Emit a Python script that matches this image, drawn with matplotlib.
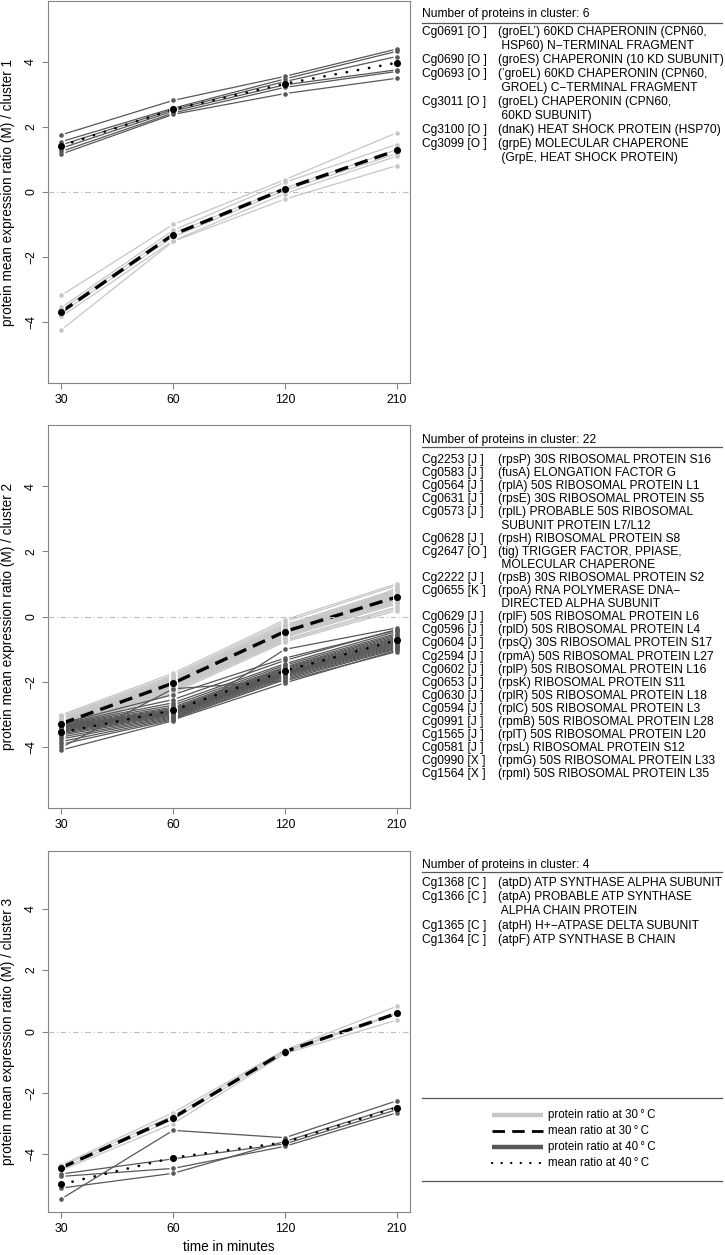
import numpy as np
import matplotlib
matplotlib.use("Agg")
import matplotlib.pyplot as plt

plt.rcParams['font.family'] = ['Liberation Sans', 'DejaVu Sans']

# ---- data ----
times = ["30", "60", "120", "210"]

# cluster 1: one row per protein, columns = 30, 60, 120, 210 min
c1_30C = [[-3.18, -1.00, 0.38, 1.82],
          [-3.55, -1.18, 0.30, 1.46],
          [-3.62, -1.28, 0.12, 1.30],
          [-3.72, -1.38, 0.05, 1.18],
          [-3.83, -1.50, -0.05, 1.10],
          [-4.24, -1.52, -0.22, 0.81]]
c1_40C = [[1.76, 2.82, 3.56, 4.40],
          [1.55, 2.58, 3.48, 4.33],
          [1.45, 2.54, 3.40, 4.17],
          [1.35, 2.49, 3.30, 3.76],
          [1.25, 2.43, 3.22, 3.71],
          [1.17, 2.39, 3.03, 3.50]]

c2_30C = [[-3.02, -1.74, -0.10, 1.00],
          [-3.06, -1.80, -0.16, 0.95],
          [-3.10, -1.84, -0.22, 0.40],
          [-3.13, -1.88, -0.26, 0.84],
          [-3.16, -1.90, -0.30, 0.80],
          [-3.19, -1.93, -0.33, 0.77],
          [-3.21, -1.95, -0.36, 0.74],
          [-3.23, -1.97, -0.39, 0.70],
          [-3.25, -1.99, -0.41, 0.67],
          [-3.27, -2.01, -0.43, 0.64],
          [-3.29, -2.03, -0.45, 0.62],
          [-3.30, -2.05, -0.47, 0.59],
          [-3.32, -2.07, -0.50, 0.56],
          [-3.34, -2.09, -0.52, 0.53],
          [-3.35, -2.11, -0.55, 0.50],
          [-3.37, -2.14, -0.58, 0.46],
          [-3.39, -2.17, -0.61, 0.42],
          [-3.41, -2.20, -0.64, 0.38],
          [-3.43, -2.23, -0.67, 0.88],
          [-3.46, -2.26, -0.70, 0.29],
          [-3.50, -2.30, -0.74, 0.24],
          [-3.55, -2.35, -0.78, 0.18]]
c2_40C = [[-3.28, -2.40, -1.28, -0.42],
          [-3.30, -2.55, -1.35, -0.40],
          [-3.32, -2.65, -1.45, -0.46],
          [-3.34, -2.72, -1.50, -0.52],
          [-3.36, -2.78, -1.55, -0.56],
          [-3.38, -2.82, -1.58, -0.60],
          [-3.40, -2.85, -1.61, -0.64],
          [-3.42, -2.88, -1.64, -0.67],
          [-3.44, -2.90, -1.67, -0.70],
          [-3.46, -2.92, -1.70, -0.73],
          [-3.48, -2.94, -1.72, -0.76],
          [-3.50, -2.96, -1.74, -0.79],
          [-3.53, -2.98, -1.76, -0.82],
          [-3.56, -3.00, -1.78, -0.85],
          [-3.60, -3.02, -1.80, -0.88],
          [-3.64, -3.05, -1.83, -0.91],
          [-3.70, -3.08, -1.86, -0.94],
          [-3.76, -3.11, -1.90, -0.97],
          [-3.84, -3.14, -1.94, -1.00],
          [-3.92, -3.17, -2.04, -1.04],
          [-4.02, -2.22, -1.98, -1.08],
          [-4.10, -3.20, -1.01, -0.35]]

c3_30C = [[-4.35, -2.64, -0.60, 0.82],
          [-4.40, -2.74, -0.63, 0.60],
          [-4.47, -2.86, -0.67, 0.56],
          [-4.52, -3.00, -0.72, 0.37]]
c3_40C = [[-4.64, -4.15, -3.66, -2.55],
          [-4.72, -4.46, -3.74, -2.65],
          [-5.10, -4.62, -3.58, -2.45],
          [-5.45, -3.22, -3.46, -2.26]]

c1_names = [("Cg0691 [O ]", ["(groEL\u2019) 60KD CHAPERONIN (CPN60,", " HSP60) N\u2212TERMINAL FRAGMENT"]),
            ("Cg0690 [O ]", ["(groES) CHAPERONIN (10 KD SUBUNIT)"]),
            ("Cg0693 [O ]", ["(\u2019groEL) 60KD CHAPERONIN (CPN60,", " GROEL) C\u2212TERMINAL FRAGMENT"]),
            ("Cg3011 [O ]", ["(groEL) CHAPERONIN (CPN60,", " 60KD SUBUNIT)"]),
            ("Cg3100 [O ]", ["(dnaK) HEAT SHOCK PROTEIN (HSP70)"]),
            ("Cg3099 [O ]", ["(grpE) MOLECULAR CHAPERONE", " (GrpE, HEAT SHOCK PROTEIN)"])]
c2_names = [("Cg2253 [J ]", ["(rpsP) 30S RIBOSOMAL PROTEIN S16"]),
            ("Cg0583 [J ]", ["(fusA) ELONGATION FACTOR G"]),
            ("Cg0564 [J ]", ["(rplA) 50S RIBOSOMAL PROTEIN L1"]),
            ("Cg0631 [J ]", ["(rpsE) 30S RIBOSOMAL PROTEIN S5"]),
            ("Cg0573 [J ]", ["(rplL) PROBABLE 50S RIBOSOMAL", " SUBUNIT PROTEIN L7/L12"]),
            ("Cg0628 [J ]", ["(rpsH) RIBOSOMAL PROTEIN S8"]),
            ("Cg2647 [O ]", ["(tig) TRIGGER FACTOR, PPIASE,", " MOLECULAR CHAPERONE"]),
            ("Cg2222 [J ]", ["(rpsB) 30S RIBOSOMAL PROTEIN S2"]),
            ("Cg0655 [K ]", ["(rpoA) RNA POLYMERASE DNA\u2212", " DIRECTED ALPHA SUBUNIT"]),
            ("Cg0629 [J ]", ["(rplF) 50S RIBOSOMAL PROTEIN L6"]),
            ("Cg0596 [J ]", ["(rplD) 50S RIBOSOMAL PROTEIN L4"]),
            ("Cg0604 [J ]", ["(rpsQ) 30S RIBOSOMAL PROTEIN S17"]),
            ("Cg2594 [J ]", ["(rpmA) 50S RIBOSOMAL PROTEIN L27"]),
            ("Cg0602 [J ]", ["(rplP) 50S RIBOSOMAL PROTEIN L16"]),
            ("Cg0653 [J ]", ["(rpsK) RIBOSOMAL PROTEIN S11"]),
            ("Cg0630 [J ]", ["(rplR) 50S RIBOSOMAL PROTEIN L18"]),
            ("Cg0594 [J ]", ["(rplC) 50S RIBOSOMAL PROTEIN L3"]),
            ("Cg0991 [J ]", ["(rpmB) 50S RIBOSOMAL PROTEIN L28"]),
            ("Cg1565 [J ]", ["(rplT) 50S RIBOSOMAL PROTEIN L20"]),
            ("Cg0581 [J ]", ["(rpsL) RIBOSOMAL PROTEIN S12"]),
            ("Cg0990 [X ]", ["(rpmG) 50S RIBOSOMAL PROTEIN L33"]),
            ("Cg1564 [X ]", ["(rpmI) 50S RIBOSOMAL PROTEIN L35"])]
c3_names = [("Cg1368 [C ]", ["(atpD) ATP SYNTHASE ALPHA SUBUNIT"]),
            ("Cg1366 [C ]", ["(atpA) PROBABLE ATP SYNTHASE", " ALPHA CHAIN PROTEIN"]),
            ("Cg1365 [C ]", ["(atpH) H+\u2212ATPASE DELTA SUBUNIT"]),
            ("Cg1364 [C ]", ["(atpF) ATP SYNTHASE B CHAIN"])]

legend_labels = ["protein ratio at 30\u2009\u00b0\u2009C", "mean ratio at 30\u2009\u00b0\u2009C",
                 "protein ratio at 40\u2009\u00b0\u2009C", "mean ratio at 40\u2009\u00b0\u2009C"]

LIGHT = "#c6c6c6"
DARK = "#585858"
W, H = 725, 1255

fig = plt.figure(figsize=(W / 100, H / 100), dpi=100)
renderer = fig.canvas.get_renderer()


def fit_size(s, target_px, base=9.0):
    # font size so that string s is target_px wide
    t = fig.text(0, 0, s, fontsize=base)
    w = t.get_window_extent(renderer).width
    t.remove()
    return base * target_px / w


FS = fit_size("Number of proteins in cluster: 6", 168)
FS_LEG = fit_size(legend_labels[0], 108)
FS_LAB = fit_size("protein mean expression ratio (M) / cluster 1", 268)
FS_TICK = fit_size("210", 20.7)


def panel_axes(top, bottom, left=48, right=410):
    return fig.add_axes([left / W, 1 - bottom / H, (right - left) / W, (bottom - top) / H])


def draw_panel(ax, light, dark, k, xlabel=False):
    x = np.arange(1, len(times) + 1)
    light = np.array(light)
    dark = np.array(dark)
    for row in light:
        ax.plot(x, row, color=LIGHT, lw=0.9, zorder=2)
    for row in dark:
        ax.plot(x, row, color=DARK, lw=0.9, zorder=2)
    m30 = light.mean(axis=0)
    m40 = dark.mean(axis=0)
    ax.plot(x, m30, color="black", lw=2.4, ls=(0, (4, 2.2)), zorder=3)
    ax.plot(x, m40, color="black", lw=1.9, ls=(0, (0.1, 4.2)),
            dash_capstyle="round", zorder=3)

    # R type="b": lines stop short of the points
    allx = np.concatenate([np.tile(x, len(light)), np.tile(x, len(dark)), x, x])
    ally = np.concatenate([light.ravel(), dark.ravel(), m30, m40])
    ax.scatter(allx, ally, s=34, color="white", linewidths=0, zorder=4)

    ax.axhline(0, color="#bdbdbd", lw=0.8, ls=(0, (5, 2.5, 1, 2.5)), zorder=5)

    ax.scatter(np.tile(x, len(light)), light.ravel(), s=11, color=LIGHT, linewidths=0, zorder=6)
    ax.scatter(np.tile(x, len(dark)), dark.ravel(), s=11, color=DARK, linewidths=0, zorder=6)
    ax.scatter(x, m30, s=26, color="black", linewidths=0, zorder=7)
    ax.scatter(x, m40, s=26, color="black", linewidths=0, zorder=7)

    ax.set_xlim(0.88, 4.12)
    ax.set_ylim(-5.88, 5.88)
    ax.set_xticks(x, times)
    ax.set_yticks([-4, -2, 0, 2, 4])
    for sp in ax.spines.values():
        sp.set_color("#858585")
        sp.set_linewidth(0.8)
    ax.tick_params(axis="both", direction="out", length=4.3, width=0.8,
                   color="#858585", labelsize=FS_TICK, pad=3.5)
    ax.tick_params(axis="y", labelrotation=90)
    for lab in ax.get_yticklabels():
        lab.set_va("center")
    ax.set_ylabel("protein mean expression ratio (M) / cluster %d" % k,
                  fontsize=FS_LAB, va="center")
    ax.yaxis.set_label_coords(-0.111, 0.5)
    if xlabel:
        ax.set_xlabel("time in minutes", fontsize=FS_LAB, labelpad=4)


ax1 = panel_axes(1, 383)
ax2 = panel_axes(425, 808)
ax3 = panel_axes(851, 1212)
draw_panel(ax1, c1_30C, c1_40C, 1)
draw_panel(ax2, c2_30C, c2_40C, 2)
draw_panel(ax3, c3_30C, c3_40C, 3, xlabel=True)

# right-hand text blocks, in pixel coordinates
ov = fig.add_axes([0, 0, 1, 1])
ov.set_xlim(0, W)
ov.set_ylim(H, 0)
ov.set_axis_off()

x_id, x_desc = 422, 498


def name_block(names, y_head, y_rule, y0, step):
    ov.text(x_id, y_head, "Number of proteins in cluster: %d" % len(names),
            fontsize=FS, va="center", ha="left")
    ov.plot([x_id, 722], [y_rule, y_rule], color="#555555", lw=0.9)
    y = y0
    for pid, desc in names:
        ov.text(x_id, y, pid, fontsize=FS, va="center", ha="left")
        for line in desc:
            ov.text(x_desc, y, line, fontsize=FS, va="center", ha="left")
            y += step


name_block(c1_names, 14, 23, 32, 14.0)
name_block(c2_names, 440, 447, 460, 13.1)
name_block(c3_names, 865, 872, 883, 14.2)

# legend
ov.plot([x_id, 722], [1098, 1098], color="#555555", lw=0.9)
ov.plot([x_id, 722], [1181, 1181], color="#555555", lw=0.9)
leg_styles = [dict(color=LIGHT, lw=3.2, solid_capstyle="butt"),
              dict(color="black", lw=2.0, ls=(0, (4.5, 2.6))),
              dict(color=DARK, lw=3.2, solid_capstyle="butt"),
              dict(color="black", lw=1.6, ls=(0, (0.1, 4.2)), dash_capstyle="round")]
for i, (lab, st) in enumerate(zip(legend_labels, leg_styles)):
    yy = 1115 + 16 * i
    ov.plot([492, 543], [yy, yy], **st)
    ov.text(548, yy, lab, fontsize=FS_LEG, va="center", ha="left")

fig.savefig("out.png", dpi=100)
